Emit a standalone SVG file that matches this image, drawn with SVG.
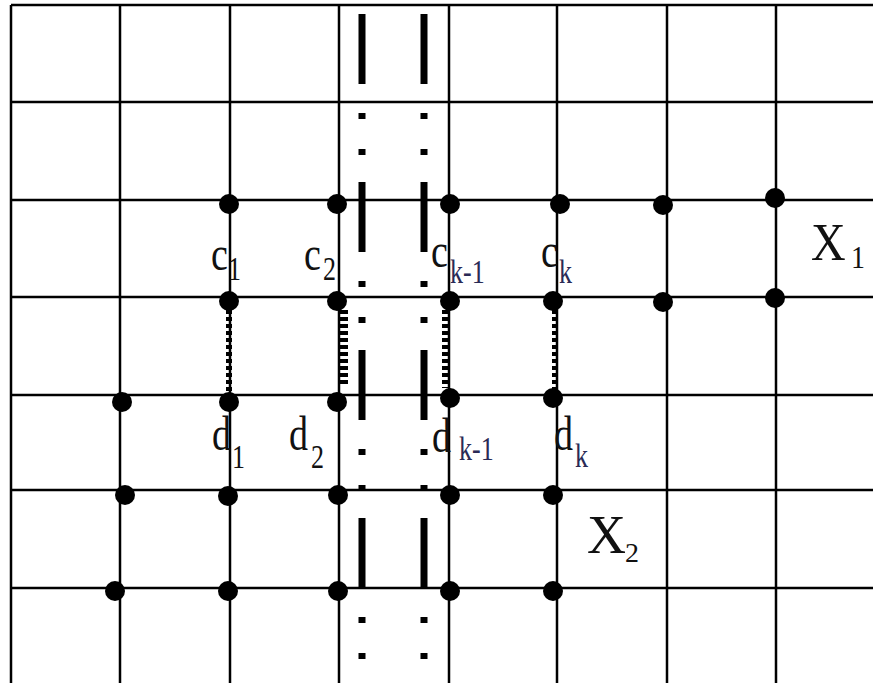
<svg xmlns="http://www.w3.org/2000/svg" width="873" height="683" viewBox="0 0 873 683">
<style>
.g{stroke:#000;stroke-width:2.5;fill:none}
.dd{stroke:#000;stroke-width:7;fill:none;stroke-dasharray:70 29 6 30 6 27}
.dot{fill:#000}
.lk{stroke:#000;fill:none;stroke-dasharray:4 3}
.m{font-size:38px}
.s{font-size:26px}
.k{fill:#2a2a55}
</style>
<rect width="873" height="683" fill="#fff"/>
<g id="grid">
<path class="g" d="M11,683V5M120,683V5M230,683V5M339,683V5M449,683V5M557,683V5M667,683V5M776,683V5"/>
<path class="g" d="M11,5H873M11,102H873M11,200H873M11,297H873M11,395H873M11,490H873M11,588H873"/>
</g>
<g id="dashdot">
<line class="dd" x1="362" y1="14" x2="362" y2="683"/>
<line class="dd" x1="424" y1="14" x2="424" y2="683"/>
</g>
<g id="connectors">
<line class="lk" x1="229" y1="310" x2="229" y2="394" stroke-width="6"/>
<line class="lk" x1="344" y1="310" x2="344" y2="386" stroke-width="8"/>
<line class="lk" x1="445" y1="310" x2="445" y2="388" stroke-width="6"/>
<line class="lk" x1="555" y1="310" x2="555" y2="390" stroke-width="6"/>
</g>
<g id="dots">
<circle class="dot" cx="229" cy="204" r="10"/><circle class="dot" cx="337" cy="204" r="10"/><circle class="dot" cx="450" cy="204" r="10"/><circle class="dot" cx="560" cy="204" r="10"/><circle class="dot" cx="663" cy="205" r="10"/><circle class="dot" cx="775" cy="198" r="10"/>
<circle class="dot" cx="229" cy="301" r="10"/><circle class="dot" cx="337" cy="301" r="10"/><circle class="dot" cx="450" cy="301" r="10"/><circle class="dot" cx="553" cy="301" r="10"/><circle class="dot" cx="663" cy="302" r="10"/><circle class="dot" cx="775" cy="298" r="10"/>
<circle class="dot" cx="122" cy="402" r="10"/><circle class="dot" cx="229" cy="402" r="10"/><circle class="dot" cx="337" cy="402" r="10"/><circle class="dot" cx="450" cy="398" r="10"/><circle class="dot" cx="553" cy="398" r="10"/>
<circle class="dot" cx="125" cy="495" r="10"/><circle class="dot" cx="228" cy="496" r="10"/><circle class="dot" cx="338" cy="495" r="10"/><circle class="dot" cx="450" cy="495" r="10"/><circle class="dot" cx="553" cy="495" r="10"/>
<circle class="dot" cx="115" cy="591" r="10"/><circle class="dot" cx="228" cy="591" r="10"/><circle class="dot" cx="338" cy="591" r="10"/><circle class="dot" cx="450" cy="591" r="10"/><circle class="dot" cx="553" cy="591" r="10"/>
</g>
<g font-family="'Liberation Serif', 'DejaVu Serif', serif" fill="#111">
<g id="c1" transform="translate(211,270) scale(1,1.3)"><text class="m">c</text><text class="s" x="17" y="8">1</text></g>
<g id="c2" transform="translate(304,270) scale(1,1.3)"><text class="m">c</text><text class="s" x="19" y="8">2</text></g>
<g id="ck-1" transform="translate(431,267) scale(1,1.3)"><text class="m">c</text><text class="s k" x="19" y="12">k-1</text></g>
<g id="ck" transform="translate(541,267) scale(1,1.3)"><text class="m">c</text><text class="s k" x="18" y="12">k</text></g>
<g id="d1" transform="translate(212,450) scale(1,1.3)"><text class="m">d</text><text class="s" x="20" y="14">1</text></g>
<g id="d2" transform="translate(289,450) scale(1,1.3)"><text class="m">d</text><text class="s" x="22" y="14">2</text></g>
<g id="dk-1" transform="translate(432,452) scale(1,1.3)"><text class="m">d</text><text class="s k" x="27" y="6">k-1</text></g>
<g id="dk" transform="translate(554,450) scale(1,1.3)"><text class="m">d</text><text class="s k" x="21" y="13">k</text></g>
<g id="X1" transform="translate(811,260) scale(1,1.1)"><text style="font-size:48px">X</text><text style="font-size:28px" x="40" y="7">1</text></g>
<g id="X2" transform="translate(587,553)"><text style="font-size:54px">X</text><text style="font-size:28px" x="38" y="9">2</text></g>
</g>
</svg>
